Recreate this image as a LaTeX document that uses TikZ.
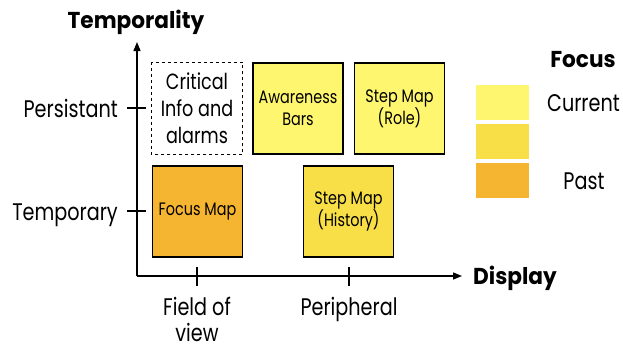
\documentclass[tikz,border=0pt]{standalone}
\usepackage{fontspec}
\setmainfont[FakeStretch=0.8,BoldFeatures={FakeStretch=0.94}]{Poppins}
\usetikzlibrary{arrows.meta}
\definecolor{cur}{HTML}{FFF66F}
\definecolor{mid}{HTML}{F8DF47}
\definecolor{past}{HTML}{F6B530}
\tikzset{
  box/.style={draw, line width=1.3pt, minimum width=90pt, minimum height=91pt, inner sep=0pt, align=center, font=\fontsize{18}{22}\selectfont},
  lab/.style={inner sep=0pt, font=\fontsize{24}{27}\selectfont},
  blab/.style={inner sep=0pt, font=\fontsize{23}{27}\selectfont\bfseries},
  axis/.style={line width=1.4pt},
  tick/.style={line width=1.3pt},
  leg/.style={minimum width=53pt, minimum height=35pt, inner sep=0pt},
}
\begin{document}
\begin{tikzpicture}[x=1pt,y=-1pt]
\useasboundingbox (0,0) rectangle (623,348);
% axes
\coordinate (O) at (137,276);
\coordinate (ytip) at (137,42);
\coordinate (xtip) at (462,276);
\draw[axis,-{Triangle[length=9pt,width=7pt]}] (O) -- (ytip);
\draw[axis,-{Triangle[length=9pt,width=7pt]}] (O) -- (xtip);
% ticks
\coordinate (p1) at (127,108); \coordinate (p2) at (146,108);
\coordinate (t1) at (127,211); \coordinate (t2) at (146,211);
\coordinate (f1) at (197,267); \coordinate (f2) at (197,286);
\coordinate (r1) at (349,267); \coordinate (r2) at (349,286);
\draw[tick] (p1) -- (p2);
\draw[tick] (t1) -- (t2);
\draw[tick] (f1) -- (f2);
\draw[tick] (r1) -- (r2);
% axis labels
\node[blab, anchor=base] (temporality) at (136,28) {Temporality};
\node[blab, anchor=base west] (display) at (473,284) {Display};
\node[lab, anchor=base east] (persist) at (118,117) {Persistant};
\node[lab, anchor=base east] (tempo) at (118,220) {Temporary};
\node[lab, anchor=base] (field) at (197,315) {Field of};
\node[lab, anchor=base] (view) at (197,341) {view};
\node[lab, anchor=base] (periph) at (349,315) {Peripheral};
% boxes
\node[box, draw=none, font=\fontsize{22}{27}\selectfont] (crit) at (197,108.5) {Critical\\Info and\\alarms};
\draw[line width=1.2pt, dash pattern=on 3pt off 3pt] (crit.north west) rectangle (crit.south east);
\node[box, fill=cur] (aware) at (298,108.5) {Awareness\\Bars};
\node[box, fill=cur] (role) at (399.5,108.5) {Step Map\\(Role)};
\node[box, fill=past] (focusmap) at (197.5,211.5) {Focus Map};
\node[box, fill=mid] (hist) at (348.5,211.5) {Step Map\\(History)};
% legend
\node[blab, anchor=base] (focus) at (583,67) {Focus};
\node[leg, fill=cur] (l1) at (502.5,102) {};
\node[leg, fill=mid] (l2) at (502.5,141.5) {};
\node[leg, fill=past] (l3) at (502.5,180.5) {};
\node[lab, anchor=base west] (current) at (547,111) {Current};
\node[lab, anchor=base] (pastl) at (584,189) {Past};
\end{tikzpicture}
\end{document}
